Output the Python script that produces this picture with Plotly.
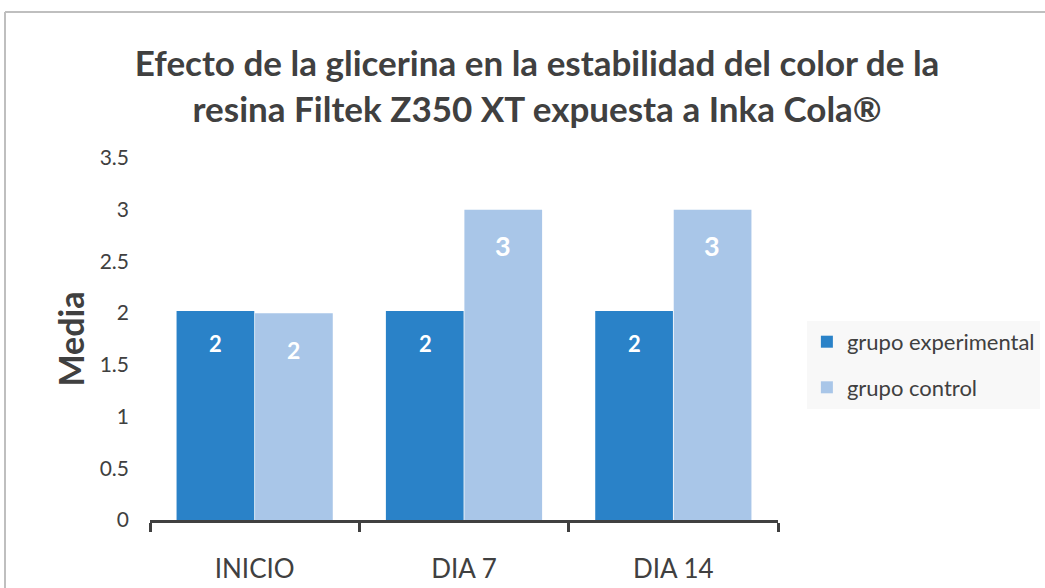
import plotly.graph_objects as go

categories = ["INICIO", "DIA 7", "DIA 14"]
experimental = [2.02, 2.02, 2.02]
control = [2.0, 3.0, 3.0]
exp_labels = ["2", "2", "2"]
ctrl_labels = ["2", "3", "3"]

FONT = "Lato"
TXT = "#404040"
C_EXP = "#2a82c8"
C_CTRL = "#a9c6e8"

fig = go.Figure()
fig.add_trace(go.Bar(x=categories, y=experimental, name="grupo experimental",
                     marker=dict(color=C_EXP, line=dict(width=0)), legendgroup="a"))
fig.add_trace(go.Bar(x=categories, y=control, name="grupo control",
                     marker=dict(color=C_CTRL, line=dict(width=0)), legendgroup="b"))

anns = []
for c, v, t in zip(categories, experimental, exp_labels):
    anns.append(dict(x=c, y=v, text=f"<b>{t}</b>", showarrow=False, xshift=-39, yshift=-32,
                     font=dict(family=FONT, size=22, color="white")))
for c, v, t in zip(categories, control, ctrl_labels):
    anns.append(dict(x=c, y=v, text=f"<b>{t}</b>", showarrow=False, xshift=39,
                     yshift=-37 if t == "2" else -36,
                     font=dict(family=FONT, size=23 if t == "2" else 27, color="white")))

fig.update_layout(
    width=1045, height=588,
    margin=dict(l=150, r=267, t=158, b=68, autoexpand=False),
    paper_bgcolor="white", plot_bgcolor="white",
    barmode="group", bargap=0.25, bargroupgap=0.01,
    font=dict(family=FONT, color=TXT),
    title=dict(text="<b>Efecto de la glicerina en la estabilidad del color de la<br>resina Filtek Z350 XT expuesta a Inka Cola®</b>",
               x=0.514, xanchor="center", y=0.87, yanchor="middle",
               font=dict(family=FONT, size=35, color=TXT)),
    xaxis=dict(showline=True, linecolor="#404040", linewidth=3, ticks="outside",
               tickson="boundaries", ticklen=9, tickwidth=3, tickcolor="#404040",
               tickfont=dict(family=FONT, size=26, color=TXT), ticklabelstandoff=24,
               showgrid=False, zeroline=False),
    yaxis=dict(range=[0, 3.5], dtick=0.5, showgrid=False, zeroline=False, showline=False,
               tickfont=dict(family=FONT, size=21, color=TXT), ticklabelstandoff=20,
               tickformat="~g",
               title=dict(text="<b>Media</b>", font=dict(family=FONT, size=34, color=TXT), standoff=4)),
    legend=dict(x=1.046, y=0.55, xanchor="left", yanchor="top", bgcolor="#f8f8f8",
                font=dict(family=FONT, size=22, color=TXT), tracegroupgap=14,
                traceorder="grouped", itemwidth=30),
    annotations=anns,
    shapes=[
        dict(type="line", xref="paper", yref="paper", x0=-0.2309, x1=1.5, y0=1.403, y1=1.403,
             line=dict(color="#bfbfbf", width=2)),
        dict(type="line", xref="paper", yref="paper", x0=-0.2309, x1=-0.2309, y0=1.403, y1=-0.3,
             line=dict(color="#bfbfbf", width=2)),
    ],
)

fig.write_html("out.html")
